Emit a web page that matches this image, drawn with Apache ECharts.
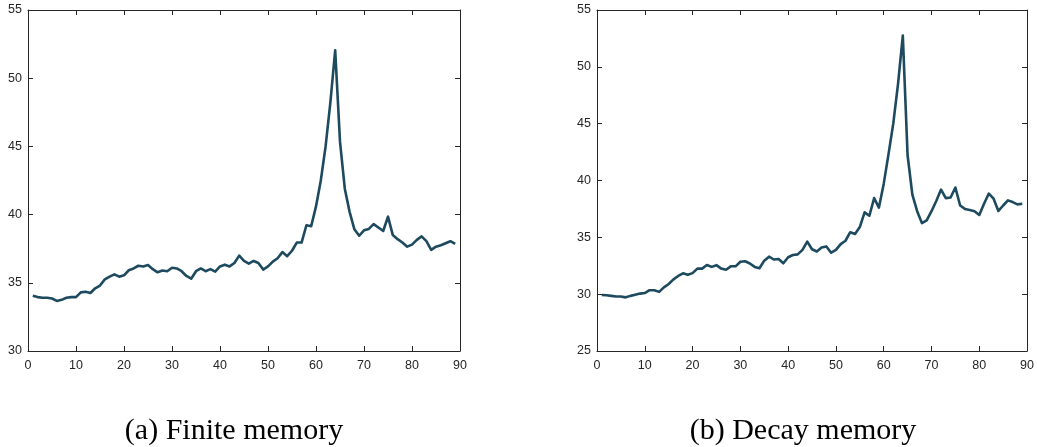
<!DOCTYPE html>
<html>
<head>
<meta charset="utf-8">
<script src="https://cdn.jsdelivr.net/npm/echarts@6/dist/echarts.min.js"></script>
<style>
  html, body { margin: 0; padding: 0; background: #fff; }
  #chart { width: 1037px; height: 447px; }
</style>
</head>
<body>
<div id="chart"></div>
<script>
// Time step index shared by both panels
const steps = Array.from({ length: 89 }, (_, i) => i + 1);

// Panel (a): finite memory
const finiteMemory = [
  34.05, 33.95, 33.9, 33.9, 33.85, 33.67, 33.75, 33.9, 33.95, 33.95,
  34.3, 34.35, 34.25, 34.6, 34.8, 35.25, 35.45, 35.62, 35.45, 35.55,
  35.92, 36.05, 36.25, 36.2, 36.3, 36.0, 35.77, 35.9, 35.85, 36.1,
  36.05, 35.85, 35.5, 35.3, 35.85, 36.05, 35.85, 36.0, 35.82, 36.2,
  36.33, 36.2, 36.45, 36.99, 36.6, 36.4, 36.6, 36.45, 35.97, 36.2,
  36.55, 36.8, 37.25, 36.95, 37.35, 37.95, 37.95, 39.22, 39.15, 40.6,
  42.5, 45.0, 48.25, 52.05, 45.35, 41.9, 40.2, 38.92, 38.45, 38.85,
  38.95, 39.3, 39.05, 38.8, 39.85, 38.5, 38.2, 37.95, 37.65, 37.8,
  38.15, 38.4, 38.05, 37.42, 37.65, 37.75, 37.9, 38.05, 37.85
];

// Panel (b): decay memory
const decayMemory = [
  29.93, 29.9, 29.85, 29.8, 29.8, 29.72, 29.85, 29.95, 30.05, 30.1,
  30.35, 30.35, 30.2, 30.6, 30.9, 31.3, 31.6, 31.83, 31.7, 31.85,
  32.25, 32.25, 32.57, 32.4, 32.55, 32.25, 32.15, 32.45, 32.45, 32.85,
  32.9, 32.7, 32.4, 32.28, 32.95, 33.3, 33.05, 33.1, 32.72, 33.25,
  33.45, 33.5, 33.9, 34.62, 33.95, 33.75, 34.1, 34.2, 33.65, 33.9,
  34.4, 34.7, 35.45, 35.3, 35.9, 37.2, 36.9, 38.45, 37.62, 39.7,
  42.3, 45.0, 48.5, 52.75, 42.22, 38.75, 37.3, 36.25, 36.5, 37.3,
  38.2, 39.2, 38.45, 38.5, 39.38, 37.8, 37.5, 37.4, 37.3, 36.97,
  37.95, 38.85, 38.4, 37.32, 37.8, 38.25, 38.1, 37.9, 37.95
];

const xTicks = { min: 0, max: 90, interval: 10 };
const yRangeA = { min: 30, max: 55, interval: 5 };
const yRangeB = { min: 25, max: 55, interval: 5 };
const captions = ['(a) Finite memory', '(b) Decay memory'];

const lineColor = '#1d4a5e';
const axisColor = '#262626';
const tickFont = { fontFamily: 'Liberation Sans', fontSize: 12.5, color: '#262626' };

const grids = [
  { left: 28, top: 10, width: 432, height: 341 },
  { left: 597, top: 10, width: 433, height: 341 }
];

function xAxisPair(gridIndex) {
  const base = {
    type: 'value', gridIndex, ...xTicks,
    axisLine: { show: true, onZero: false, lineStyle: { color: axisColor, width: 1 } },
    axisTick: { show: true, inside: true, length: 5, lineStyle: { color: axisColor } },
    splitLine: { show: false }
  };
  return [
    { ...base, position: 'bottom', axisLabel: { ...tickFont, margin: 8 } },
    { ...base, position: 'top', axisLabel: { show: false } }
  ];
}

function yAxisPair(gridIndex, range) {
  const base = {
    type: 'value', gridIndex, ...range,
    axisLine: { show: true, onZero: false, lineStyle: { color: axisColor, width: 1 } },
    axisTick: { show: true, inside: true, length: 5, lineStyle: { color: axisColor } },
    splitLine: { show: false }
  };
  return [
    { ...base, position: 'left', axisLabel: { ...tickFont, margin: 6 } },
    { ...base, position: 'right', axisLabel: { show: false } }
  ];
}

function lineSeries(values, axisIndex) {
  return {
    type: 'line',
    xAxisIndex: axisIndex,
    yAxisIndex: axisIndex,
    data: steps.map((s, i) => [s, values[i]]),
    showSymbol: false,
    symbol: 'none',
    lineStyle: { color: lineColor, width: 2.6, join: 'round' },
    animation: false
  };
}

const captionFont = '30px "Liberation Serif"';

const chart = echarts.init(document.getElementById('chart'), null, { renderer: 'canvas' });
chart.setOption({
  animation: false,
  backgroundColor: '#ffffff',
  grid: grids,
  xAxis: [...xAxisPair(0), ...xAxisPair(1)],
  yAxis: [...yAxisPair(0, yRangeA), ...yAxisPair(1, yRangeB)],
  series: [lineSeries(finiteMemory, 0), lineSeries(decayMemory, 2)],
  graphic: [
    {
      type: 'text', x: 234, y: 431,
      style: { text: captions[0], font: captionFont, fill: '#000', align: 'center', verticalAlign: 'middle' }
    },
    {
      type: 'text', x: 803, y: 431,
      style: { text: captions[1], font: captionFont, fill: '#000', align: 'center', verticalAlign: 'middle' }
    }
  ]
});
</script>
</body>
</html>
